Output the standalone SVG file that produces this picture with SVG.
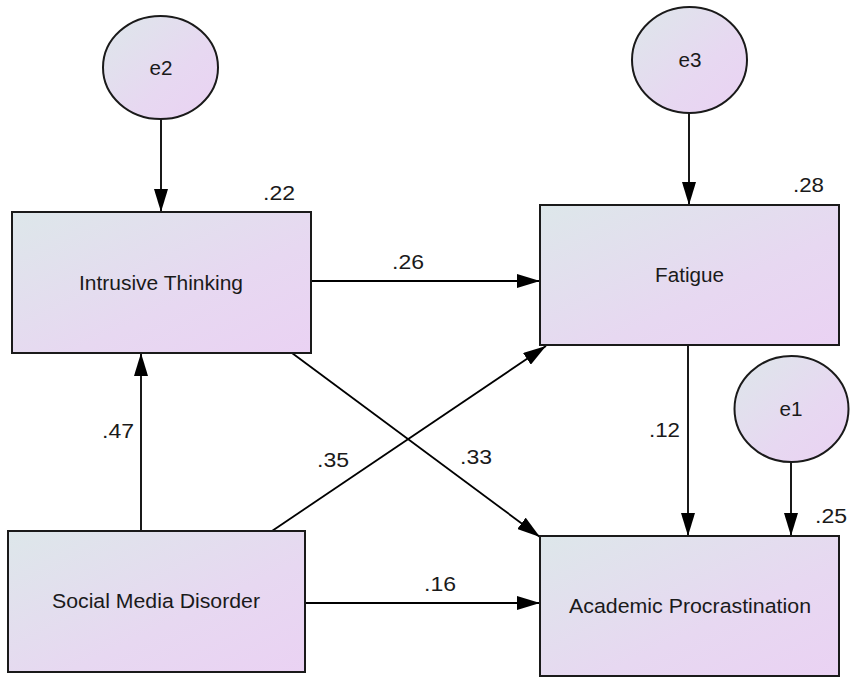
<svg xmlns="http://www.w3.org/2000/svg" width="851" height="677" viewBox="0 0 851 677">
<defs>
<linearGradient id="g" x1="0" y1="0" x2="1" y2="1">
<stop offset="0" stop-color="#dde7ea"/>
<stop offset="0.6" stop-color="#e7d8f1"/>
<stop offset="1" stop-color="#ead2f3"/>
</linearGradient>
<marker id="ah" markerUnits="userSpaceOnUse" markerWidth="23" markerHeight="14" refX="23" refY="7" orient="auto">
<path d="M0,0 L23,7 L0,14 z" fill="#000"/>
</marker>
<style>
.n{fill:url(#g);stroke:#1a1a1a;stroke-width:2}
.t{font-family:"Liberation Sans",Arial,sans-serif;font-size:20.5px;fill:#1a1a1a}
.c{text-anchor:middle}
.l{stroke:#000;stroke-width:1.8;fill:none;marker-end:url(#ah)}
</style>
</defs>
<rect width="851" height="677" fill="#fff"/>
<g id="connectors">
<line class="l" x1="161" y1="119" x2="161" y2="212"/>
<line class="l" x1="689" y1="113" x2="689" y2="205"/>
<line class="l" x1="791" y1="462" x2="791" y2="536"/>
<line class="l" x1="311" y1="281" x2="540" y2="281"/>
<line class="l" x1="688" y1="345" x2="688" y2="536"/>
<line class="l" x1="292" y1="353" x2="540" y2="537"/>
<line class="l" x1="272" y1="531" x2="546" y2="346"/>
<line class="l" x1="141" y1="531" x2="141" y2="353"/>
<line class="l" x1="305" y1="603" x2="540" y2="603"/>
</g>
<g id="labels" class="t">
<text x="263" y="200" textLength="32" lengthAdjust="spacingAndGlyphs">.22</text>
<text x="793" y="192" textLength="31" lengthAdjust="spacingAndGlyphs">.28</text>
<text x="392" y="269" textLength="32" lengthAdjust="spacingAndGlyphs">.26</text>
<text x="102" y="438" textLength="32" lengthAdjust="spacingAndGlyphs">.47</text>
<text x="317" y="467" textLength="32" lengthAdjust="spacingAndGlyphs">.35</text>
<text x="460" y="464" textLength="32" lengthAdjust="spacingAndGlyphs">.33</text>
<text x="649" y="437" textLength="31" lengthAdjust="spacingAndGlyphs">.12</text>
<text x="815" y="523" textLength="32" lengthAdjust="spacingAndGlyphs">.25</text>
<text x="424" y="591" textLength="32" lengthAdjust="spacingAndGlyphs">.16</text>
</g>
<g id="e2">
<ellipse class="n" cx="160.5" cy="67.5" rx="57.5" ry="51.5"/>
<text class="t c" x="161" y="75" textLength="23" lengthAdjust="spacingAndGlyphs">e2</text>
</g>
<g id="e3">
<ellipse class="n" cx="689.5" cy="60" rx="57.5" ry="53"/>
<text class="t c" x="690" y="67" textLength="23" lengthAdjust="spacingAndGlyphs">e3</text>
</g>
<g id="e1">
<ellipse class="n" cx="791.5" cy="409" rx="57" ry="53"/>
<text class="t c" x="791" y="416" textLength="23" lengthAdjust="spacingAndGlyphs">e1</text>
</g>
<g id="intrusive">
<rect class="n" x="12" y="212" width="299" height="141"/>
<text class="t c" x="161" y="290" textLength="164" lengthAdjust="spacingAndGlyphs">Intrusive Thinking</text>
</g>
<g id="fatigue">
<rect class="n" x="540" y="205" width="299" height="140"/>
<text class="t c" x="689.5" y="282" textLength="69" lengthAdjust="spacingAndGlyphs">Fatigue</text>
</g>
<g id="smd">
<rect class="n" x="8" y="531" width="297" height="141"/>
<text class="t c" x="156" y="608" textLength="208" lengthAdjust="spacingAndGlyphs">Social Media Disorder</text>
</g>
<g id="ap">
<rect class="n" x="540" y="536" width="299" height="140"/>
<text class="t c" x="690" y="613" textLength="242" lengthAdjust="spacingAndGlyphs">Academic Procrastination</text>
</g>
</svg>
